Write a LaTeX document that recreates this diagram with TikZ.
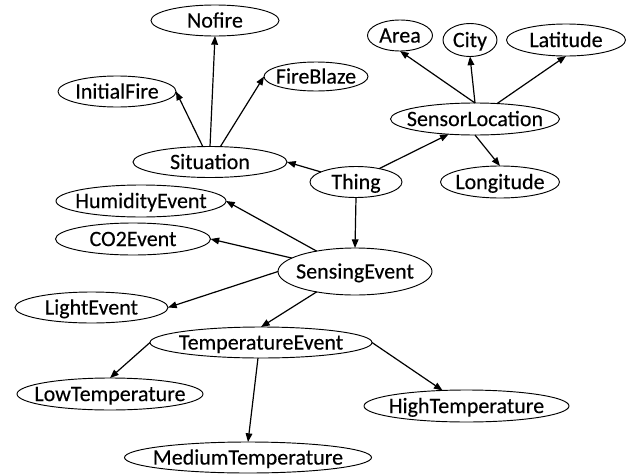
\documentclass[tikz,border=0pt]{standalone}
\usepackage{fontspec}
\setmainfont{Carlito}[FakeBold=0.25]
\usetikzlibrary{shapes.geometric,arrows.meta}
\tikzset{
  ell/.style 2 args={shape=ellipse, draw=black, fill=white, line width=0.7pt,
    inner sep=0pt, outer sep=0pt, minimum width=#1*0.75pt, minimum height=#2*0.75pt},
  lbl/.style={font=\fontsize{16.5}{19}\selectfont, text height=10.6pt, text depth=0pt, inner sep=0pt},
  link/.style={draw=black, line width=0.9pt, -{Triangle[length=6.5pt,width=5pt]}}
}
\begin{document}
\begin{tikzpicture}[x=0.75pt,y=-0.75pt]
\useasboundingbox (0,0) rectangle (632,475);
% nodes
\node[ell={128}{31}, label={[lbl]center:Nofire}] (nofire) at (215,20.5) {};
\node[ell={118}{31}, label={[lbl]center:InitialFire}] (initial) at (117,91.5) {};
\node[ell={104}{29}, label={[lbl]center:FireBlaze}] (fireblaze) at (316,76.5) {};
\node[ell={154}{31}, label={[lbl]center:Situation}] (sit) at (210,162) {};
\node[ell={170}{32}, label={[lbl]center:HumidityEvent}] (humid) at (141,201) {};
\node[ell={155}{32}, label={[lbl]center:CO2Event}] (co2) at (133,239) {};
\node[ell={153}{31}, label={[lbl]center:LightEvent}] (light) at (91.5,307.5) {};
\node[ell={222}{31}, label={[lbl]center:TemperatureEvent}] (temp) at (261,342.5) {};
\node[ell={186}{32}, label={[lbl]center:LowTemperature}] (low) at (110,394) {};
\node[ell={247}{31}, label={[lbl]center:MediumTemperature}] (medium) at (248,457.5) {};
\node[ell={205}{32}, label={[lbl]center:HighTemperature}] (high) at (466.5,406) {};
\node[ell={154}{47}, label={[lbl]center:SensingEvent}] (sensing) at (355,271.5) {};
\node[ell={92}{31}, label={[lbl]center:Thing}] (thing) at (356,182) {};
\node[ell={169}{32}, label={[lbl]center:SensorLocation}] (sl) at (475,119) {};
\node[ell={119}{32}, label={[lbl]center:Longitude}] (longitude) at (500,182) {};
\node[ell={65}{31}, label={[lbl]center:Area}] (area) at (400,35.5) {};
\node[ell={54}{33}, label={[lbl]center:City}] (city) at (470,40) {};
\node[ell={119}{32}, label={[lbl]center:Latitude}] (latitude) at (566,40) {};
% connectors
\draw[link] (sit.north) -- (nofire.south);
\draw[link] (sit.115) -- (initial.east);
\draw[link] (sit.56) -- (fireblaze.west);
\draw[link] (thing.164) -- (sit.east);
\draw[link] (thing.30) -- (sl.210);
\draw[link] (thing.south) -- (sensing.north);
\draw[link] (sl.north) -- (area.south);
\draw[link] (sl.north) -- (city.south);
\draw[link] (sl.35) -- (latitude.south);
\draw[link] (sl.south) -- (longitude.north);
\draw[link] (sensing.152) -- (humid.east);
\draw[link] (sensing.168) -- (co2.east);
\draw[link] (sensing.west) -- (light.east);
\draw[link] (sensing.208) -- (temp.north);
\draw[link] (temp.west) -- (low.north);
\draw[link] (temp.259) -- (medium.north);
\draw[link] (temp.east) -- (high.147);
\end{tikzpicture}
\end{document}
